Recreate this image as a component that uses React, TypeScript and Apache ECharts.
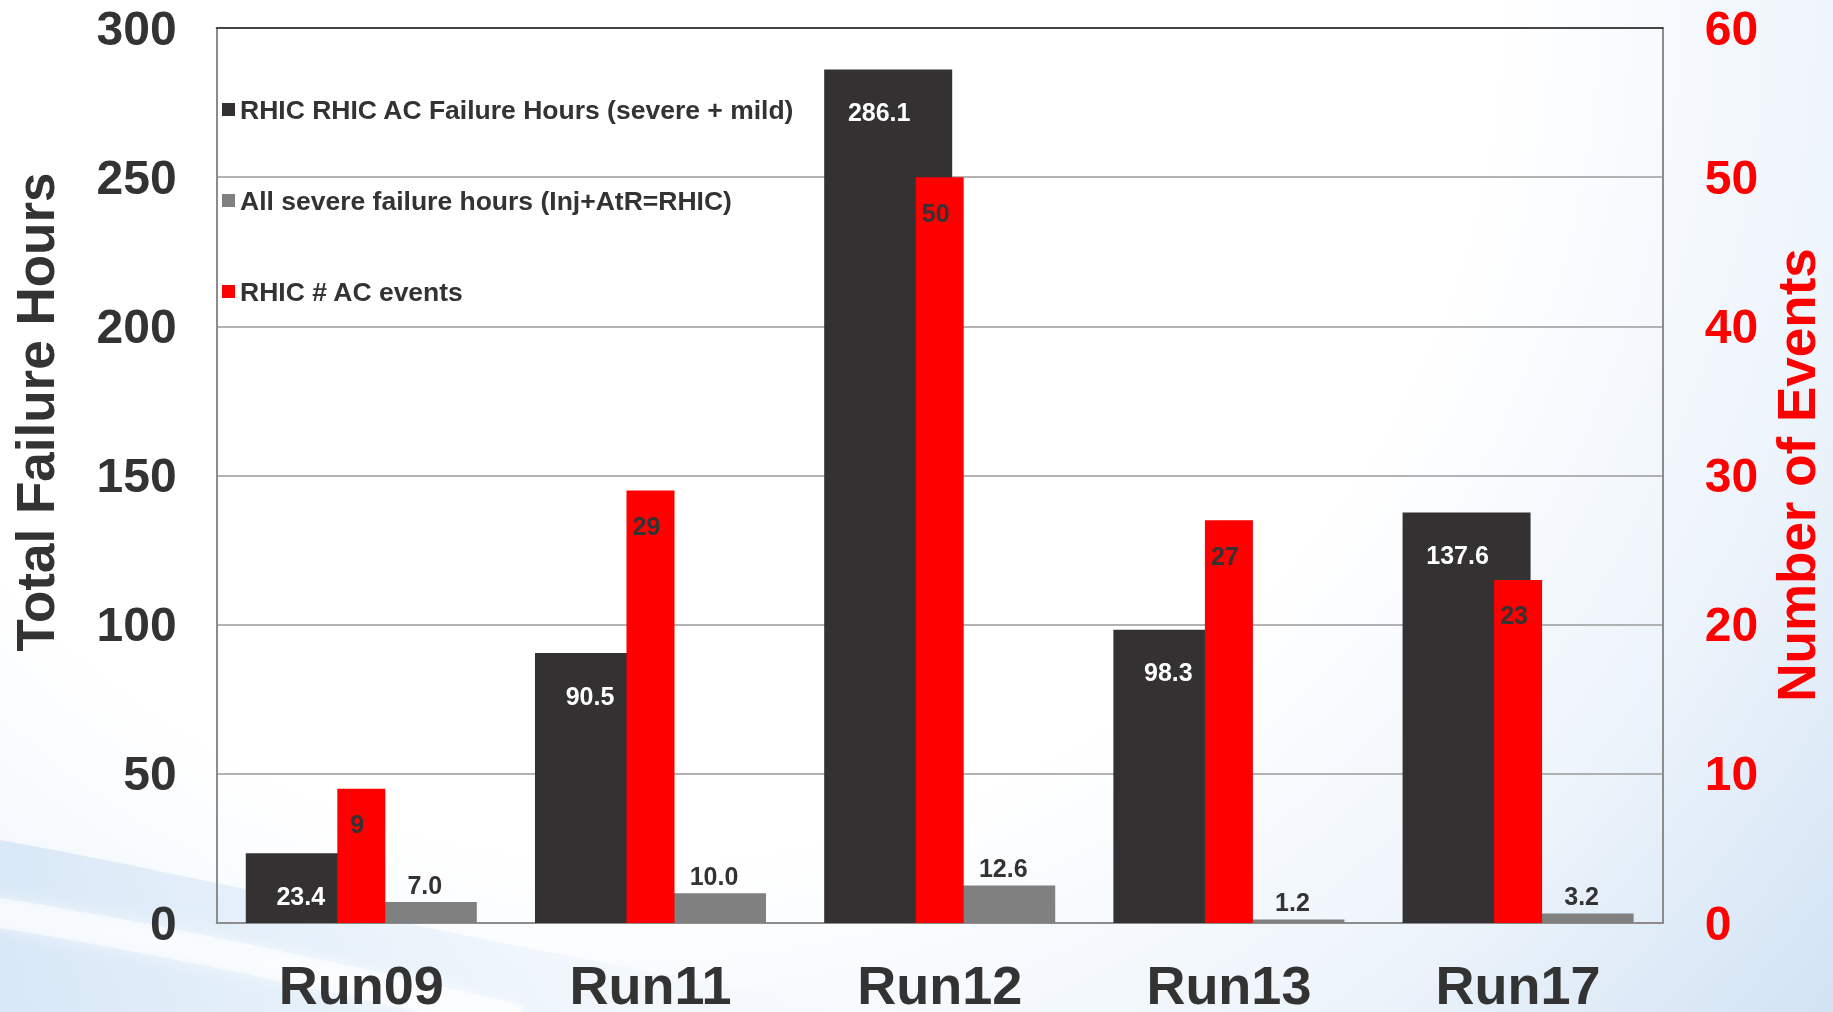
import React, { useEffect, useRef } from 'react';
import * as echarts from 'echarts';

// Chart data
const categories = ['Run09', 'Run11', 'Run12', 'Run13', 'Run17'];
const failureHours = [23.4, 90.5, 286.1, 98.3, 137.6];
const severeHours = [7.0, 10.0, 12.6, 1.2, 3.2];
const acEvents = [9, 29, 50, 27, 23];
const seriesNames = [
  'RHIC RHIC AC Failure Hours (severe + mild)',
  'All severe failure hours (Inj+AtR=RHIC)',
  'RHIC # AC events',
];
const hoursAxis = { min: 0, max: 300, interval: 50 };
const eventsAxis = { min: 0, max: 60, interval: 10 };

const W = 1833;
const H = 1012;
const FONT = 'Arial, "Liberation Sans", Helvetica, sans-serif';

// Decorative light-blue wave at the lower left of the slide background
echarts.graphic.registerShape(
  'swoosh',
  echarts.graphic.extendPath('M0 840 C 250 885 560 965 900 1012 L 0 1012 Z', {})
);

export default function App() {
  const ref = useRef<HTMLDivElement>(null);

  useEffect(() => {
    if (!ref.current) return;
    const chart = echarts.init(ref.current, undefined, { renderer: 'svg' });

    const labelFont = { fontSize: 25, fontWeight: 'bold' as const, fontFamily: FONT };

    chart.setOption({
      animation: false,
      textStyle: { fontFamily: FONT },
      graphic: [
        {
          type: 'rect',
          z: -10,
          silent: true,
          shape: { x: 0, y: 0, width: W, height: H },
          style: {
            fill: new echarts.graphic.RadialGradient(
              640,
              0,
              1560,
              [
                { offset: 0, color: '#ffffff' },
                { offset: 0.55, color: '#ffffff' },
                { offset: 0.78, color: '#edf4fb' },
                { offset: 1, color: '#d2e3f4' },
              ],
              true
            ),
          },
        },
        {
          type: 'swoosh',
          z: -9,
          silent: true,
          style: {
            fill: new echarts.graphic.LinearGradient(
              0,
              0,
              850,
              0,
              [
                { offset: 0, color: 'rgba(208,227,245,0.75)' },
                { offset: 0.6, color: 'rgba(222,236,249,0.4)' },
                { offset: 1, color: 'rgba(230,240,250,0)' },
              ],
              true
            ),
          },
        },
        {
          type: 'bezierCurve',
          z: -8,
          silent: true,
          shape: { x1: -20, y1: 910, cpx1: 180, cpy1: 940, x2: 520, y2: 1020 },
          style: {
            stroke: 'rgba(255,255,255,0.6)',
            lineWidth: 30,
            fill: null,
            shadowBlur: 16,
            shadowColor: 'rgba(255,255,255,0.9)',
          },
        },
        {
          type: 'text',
          z: 10,
          x: 35,
          y: 412,
          rotation: Math.PI / 2,
          style: {
            text: 'Total Failure Hours',
            fontSize: 53,
            fontWeight: 'bold',
            fontFamily: FONT,
            fill: '#333333',
            align: 'center',
            verticalAlign: 'middle',
          },
        },
        {
          type: 'text',
          z: 10,
          x: 1796,
          y: 475,
          rotation: Math.PI / 2,
          style: {
            text: 'Number of Events',
            fontSize: 53,
            fontWeight: 'bold',
            fontFamily: FONT,
            fill: '#ff0000',
            align: 'center',
            verticalAlign: 'middle',
          },
        },
      ],
      legend: {
        orient: 'vertical',
        left: 217,
        top: 91,
        itemWidth: 13,
        itemHeight: 13,
        itemGap: 64,
        icon: 'rect',
        selectedMode: false,
        data: seriesNames,
        textStyle: { fontSize: 26.5, fontWeight: 'bold', color: '#333333', lineHeight: 26, fontFamily: FONT },
      },
      grid: { left: 216.7, right: W - 1662.7, top: 28, bottom: H - 926, containLabel: false },
      xAxis: [
        {
          type: 'category',
          data: categories,
          position: 'bottom',
          axisLine: { show: true, onZero: false, lineStyle: { color: '#8c8c8c', width: 2 } },
          axisTick: { show: false },
          axisLabel: {
            margin: 38,
            fontSize: 54,
            lineHeight: 48,
            fontWeight: 'bold',
            color: '#333333',
            fontFamily: FONT,
          },
        },
        {
          type: 'category',
          data: categories,
          position: 'top',
          axisLine: { show: true, onZero: false, lineStyle: { color: '#454545', width: 2 } },
          axisTick: { show: false },
          axisLabel: { show: false },
        },
      ],
      yAxis: [
        {
          type: 'value',
          position: 'left',
          ...hoursAxis,
          axisLine: { show: true, lineStyle: { color: '#8c8c8c', width: 2 } },
          axisTick: { show: false },
          splitLine: { show: true, lineStyle: { color: '#9a9a9a', width: 1.5 } },
          axisLabel: { margin: 40, fontSize: 48, fontWeight: 'bold', color: '#333333', fontFamily: FONT },
        },
        {
          type: 'value',
          position: 'right',
          ...eventsAxis,
          axisLine: { show: true, lineStyle: { color: '#8c8c8c', width: 2 } },
          axisTick: { show: false },
          splitLine: { show: false },
          axisLabel: { margin: 42, fontSize: 48, fontWeight: 'bold', color: '#ff0000', fontFamily: FONT },
        },
      ],
      series: [
        {
          name: seriesNames[0],
          type: 'bar',
          xAxisIndex: 0,
          yAxisIndex: 0,
          data: failureHours,
          barWidth: 128,
          barGap: '-19.5%',
          itemStyle: { color: '#333132' },
          label: {
            show: true,
            position: 'insideTop',
            distance: 30,
            offset: [-9, 0],
            color: '#ffffff',
            ...labelFont,
            formatter: (p: any) => Number(p.value).toFixed(1),
          },
        },
        {
          name: seriesNames[1],
          type: 'bar',
          xAxisIndex: 0,
          yAxisIndex: 0,
          data: severeHours,
          barWidth: 128,
          barGap: '-19.5%',
          itemStyle: { color: '#808080' },
          label: {
            show: true,
            position: 'top',
            distance: 5,
            offset: [12, 0],
            color: '#333333',
            ...labelFont,
            formatter: (p: any) => Number(p.value).toFixed(1),
          },
        },
        {
          name: seriesNames[2],
          type: 'bar',
          xAxisIndex: 1,
          yAxisIndex: 1,
          data: acEvents,
          barWidth: 48,
          itemStyle: { color: '#ff0000' },
          label: {
            show: true,
            position: 'insideTop',
            distance: 23,
            offset: [-4, 0],
            color: '#333333',
            ...labelFont,
            formatter: (p: any) => String(p.value),
          },
        },
      ],
    });

    return () => chart.dispose();
  }, []);

  return <div ref={ref} style={{ position: 'fixed', left: 0, top: 0, width: W, height: H }} />;
}
